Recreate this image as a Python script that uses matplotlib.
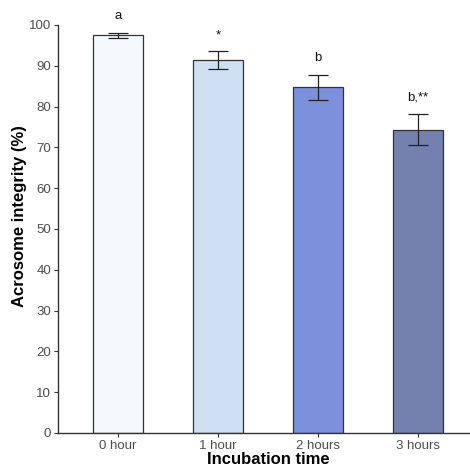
import matplotlib
matplotlib.use("Agg")
import matplotlib.pyplot as plt

plt.rcParams["font.family"] = ["Liberation Sans", "DejaVu Sans"]

# data
categories = ["0 hour", "1 hour", "2 hours", "3 hours"]
means = [97.5, 91.3, 84.7, 74.3]
errors = [0.6, 2.2, 3.05, 3.8]
letters = ["a", "*", "b", "b,**"]
colors = ["#F4F9FE", "#CFE0F2", "#7C90DC", "#7480AE"]

fig = plt.figure(figsize=(4.7, 4.69), dpi=100)
ax = fig.add_axes([0.1234, 0.0768, 0.894, 0.870])

x = range(len(categories))
ax.bar(x, means, width=0.5, color=colors, edgecolor="#333333", linewidth=0.9, zorder=2)
ax.errorbar(x, means, yerr=errors, fmt="none", ecolor="#222222", elinewidth=0.9,
            capsize=7.2, capthick=0.9, zorder=3)

for xi, m, e, lab in zip(x, means, errors, letters):
    ax.text(xi, m + e + 3.3, lab, ha="center", va="baseline", fontsize=9.5,
            color="#111111", clip_on=False)

ax.set_xlim(-0.6, 3.6)
ax.set_ylim(0, 100)
ax.set_yticks(range(0, 101, 10))
ax.set_xticks(list(x))
ax.set_xticklabels(categories)

for side in ["top", "right"]:
    ax.spines[side].set_visible(False)
for side in ["left", "bottom"]:
    ax.spines[side].set_color("#333333")
    ax.spines[side].set_linewidth(1.0)

ax.tick_params(axis="both", direction="out", length=3, width=0.8, color="#333333",
               labelcolor="#4D4D4D", labelsize=9.5, pad=2)

ax.set_xlabel("Incubation time", fontsize=12, fontweight="bold", labelpad=0)
ax.set_ylabel("Acrosome integrity (%)", fontsize=12, fontweight="bold")
# label sits a bit above the panel centre in the reference
ax.yaxis.set_label_coords(-0.074, 0.532)

fig.savefig("out.png", dpi=100)
